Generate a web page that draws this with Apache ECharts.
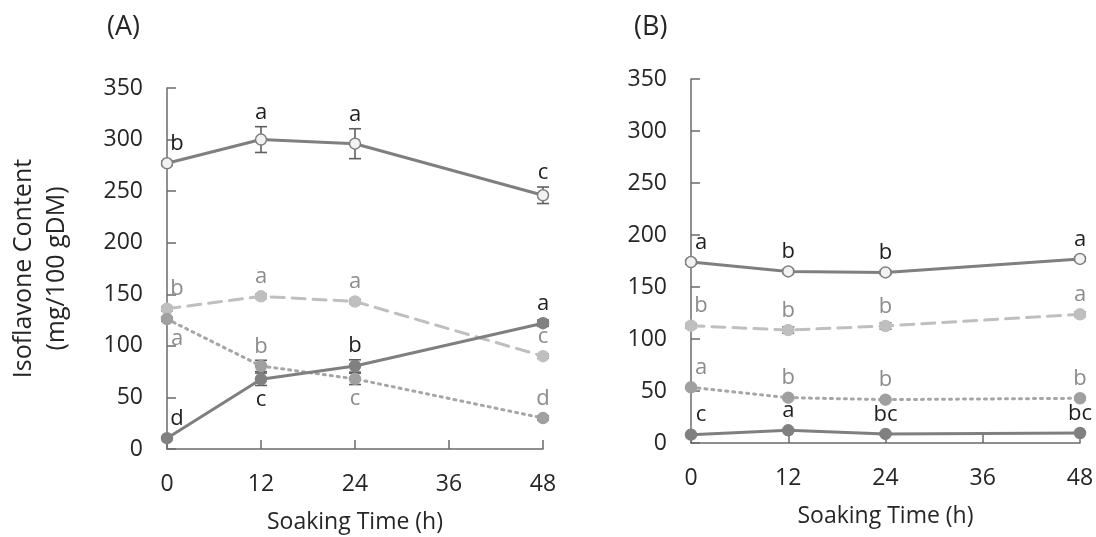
<!DOCTYPE html>
<html>
<head>
<meta charset="utf-8">
<script src="https://cdn.jsdelivr.net/npm/echarts@6/dist/echarts.min.js"></script>
<style>
html,body{margin:0;padding:0;background:#fff;}
#chart{width:1096px;height:537px;}
</style>
</head>
<body>
<div id="chart"></div>
<script>
// ---------- data ----------
const hours = [0, 12, 24, 48];
const xTicks = [0, 12, 24, 36, 48];
const yTicks = [0, 50, 100, 150, 200, 250, 300, 350];
const panelTitles = ['(A)', '(B)'];
const xName = 'Soaking Time (h)';
const yName = 'Isoflavone Content\n(mg/100 gDM)';

// Panel A
const aS1 = [277, 300, 296, 246];
const aS1Err = [2, 12.5, 14.5, 8];
const aS1Let = ['b', 'a', 'a', 'c'];
const aS2 = [136, 148, 143, 90];
const aS2Err = [2, 2, 2, 2];
const aS2Let = ['b', 'a', 'a', 'c'];
const aS3 = [126, 80.5, 68, 30];
const aS3Err = [2, 5.5, 5.5, 2];
const aS3Let = ['a', 'b', 'c', 'd'];
const aS4 = [10.5, 67.6, 80.5, 122];
const aS4Err = [1, 6, 6, 3];
const aS4Let = ['d', 'c', 'b', 'a'];

// Panel B
const bS1 = [174, 165, 164, 177];
const bS1Err = [2, 2, 2, 2];
const bS1Let = ['a', 'b', 'b', 'a'];
const bS2 = [112.8, 108.6, 112.5, 123.7];
const bS2Err = [2, 3, 3, 2];
const bS2Let = ['b', 'b', 'b', 'a'];
const bS3 = [53.5, 43.6, 41.7, 43];
const bS3Err = [1, 1, 1, 1];
const bS3Let = ['a', 'b', 'b', 'b'];
const bS4 = [8, 12.2, 8.7, 9.6];
const bS4Err = [1, 1, 1, 1];
const bS4Let = ['c', 'a', 'bc', 'bc'];

// ---------- styles ----------
const FONT = "'Open Sans', sans-serif";
const FS_TICK = 23;
const FS_LET = 22;
const FS_XNAME = 23;
const FS_YNAME = 25;
const TXT = '#262626';
const LETTER_DARK = '#1f1f1f';
const LETTER_GRAY = '#8c8c8c';
const AXIS = '#6b6b6b';

const styles = [
  { name: 'S1', line: '#7f7f7f', type: 'solid', mFill: '#f2f2f2', mBorder: '#7f7f7f', letter: LETTER_DARK },
  { name: 'S2', line: '#bfbfbf', type: [13, 8], mFill: '#bfbfbf', mBorder: '#bfbfbf', letter: LETTER_GRAY },
  { name: 'S3', line: '#a6a6a6', type: [2, 5], mFill: '#a0a0a0', mBorder: '#a0a0a0', letter: LETTER_GRAY },
  { name: 'S4', line: '#7f7f7f', type: 'solid', mFill: '#808080', mBorder: '#808080', letter: LETTER_DARK }
];
// letters placed below the point: [panel][series] -> indices
const belowPlace = [
  [[], [], [0, 2], [1]],
  [[], [], [], []]
];

const panels = [
  { vals: [aS1, aS2, aS3, aS4], errs: [aS1Err, aS2Err, aS3Err, aS4Err], lets: [aS1Let, aS2Let, aS3Let, aS4Let] },
  { vals: [bS1, bS2, bS3, bS4], errs: [bS1Err, bS2Err, bS3Err, bS4Err], lets: [bS1Let, bS2Let, bS3Let, bS4Let] }
];

const grids = [
  { left: 167, right: 553, top: 88, bottom: 88, outerBoundsMode: 'none', containLabel: false },
  { left: 691, right: 16, top: 79, bottom: 94, outerBoundsMode: 'none', containLabel: false }
];

const xAxes = grids.map((g, i) => ({
  type: 'value', gridIndex: i, min: xTicks[0], max: xTicks[xTicks.length - 1], interval: xTicks[1] - xTicks[0],
  name: xName, nameLocation: 'middle', nameGap: 62,
  nameTextStyle: { fontFamily: FONT, fontSize: FS_XNAME, color: TXT },
  axisLine: { show: true, onZero: false, lineStyle: { color: AXIS, width: 1.5 } },
  axisTick: { show: true, inside: true, length: 9, lineStyle: { color: AXIS, width: 1.5 } },
  axisLabel: { fontFamily: FONT, fontSize: FS_TICK, color: TXT, margin: 24 },
  splitLine: { show: false }
}));
const yAxes = grids.map((g, i) => ({
  type: 'value', gridIndex: i, min: yTicks[0], max: yTicks[yTicks.length - 1], interval: yTicks[1] - yTicks[0],
  name: i === 0 ? yName : '', nameLocation: 'middle', nameGap: 94, nameRotate: 90,
  nameTextStyle: { fontFamily: FONT, fontSize: FS_YNAME, color: TXT, lineHeight: 33 },
  axisLine: { show: true, onZero: false, lineStyle: { color: AXIS, width: 1.5 } },
  axisTick: { show: true, inside: true, length: 9, lineStyle: { color: AXIS, width: 1.5 } },
  axisLabel: { fontFamily: FONT, fontSize: FS_TICK, color: TXT, margin: 24 },
  splitLine: { show: false }
}));

const series = [];
panels.forEach((p, pi) => {
  p.vals.forEach((vals, si) => {
    const st = styles[si];
    const errs = p.errs[si];
    const lets = p.lets[si];
    const data = hours.map((h, k) => [h, vals[k], errs[k]]);
    // error bars
    series.push({
      type: 'custom', name: st.name + ' err', xAxisIndex: pi, yAxisIndex: pi, z: 1,
      data: data,
      renderItem: function (params, api) {
        const x = api.value(0), y = api.value(1), e = api.value(2);
        const top = api.coord([x, y + e]);
        const bot = api.coord([x, y - e]);
        const w = 6;
        return {
          type: 'group', children: [
            { type: 'line', shape: { x1: top[0], y1: top[1], x2: bot[0], y2: bot[1] }, style: { stroke: '#5f5f5f', lineWidth: 1.6 } },
            { type: 'line', shape: { x1: top[0] - w, y1: top[1], x2: top[0] + w, y2: top[1] }, style: { stroke: '#5f5f5f', lineWidth: 1.6 } },
            { type: 'line', shape: { x1: bot[0] - w, y1: bot[1], x2: bot[0] + w, y2: bot[1] }, style: { stroke: '#5f5f5f', lineWidth: 1.6 } }
          ]
        };
      }
    });
    // line
    series.push({
      type: 'line', name: st.name, xAxisIndex: pi, yAxisIndex: pi, z: 3,
      data: data.map(d => [d[0], d[1]]),
      symbol: 'circle', symbolSize: 11,
      lineStyle: { color: st.line, width: 3, type: st.type, cap: st.type === 'solid' ? 'butt' : 'round' },
      itemStyle: { color: st.mFill, borderColor: st.mBorder, borderWidth: 1.5 },
      emphasis: { disabled: true },
      animation: false
    });
    // letters
    series.push({
      type: 'custom', name: st.name + ' letters', xAxisIndex: pi, yAxisIndex: pi, z: 6,
      data: data,
      renderItem: function (params, api) {
        const k = params.dataIndex;
        const x = api.value(0), y = api.value(1), e = api.value(2);
        const below = belowPlace[pi][si].indexOf(k) >= 0;
        const c = api.coord([x, y]);
        const ep = below ? api.coord([x, y - e]) : api.coord([x, y + e]);
        const ext = Math.max(Math.abs(ep[1] - c[1]), 5.5);
        const gap = 3;
        const dx = (x === hours[0]) ? 10 : 0;
        return {
          type: 'text',
          x: c[0] + dx,
          y: below ? c[1] + ext + gap : c[1] - ext - gap,
          style: {
            text: lets[k], fill: st.letter, font: FS_LET + 'px ' + FONT,
            align: 'center', verticalAlign: below ? 'top' : 'bottom'
          }
        };
      }
    });
  });
});

const chart = echarts.init(document.getElementById('chart'), null, { renderer: 'canvas' });
chart.setOption({
  animation: false,
  backgroundColor: '#ffffff',
  grid: grids,
  xAxis: xAxes,
  yAxis: yAxes,
  graphic: [
    { type: 'text', left: 107, top: 14, style: { text: panelTitles[0], font: '27px ' + FONT, fill: TXT } },
    { type: 'text', left: 634, top: 14, style: { text: panelTitles[1], font: '27px ' + FONT, fill: TXT } }
  ],
  series: series
});
</script>
</body>
</html>
